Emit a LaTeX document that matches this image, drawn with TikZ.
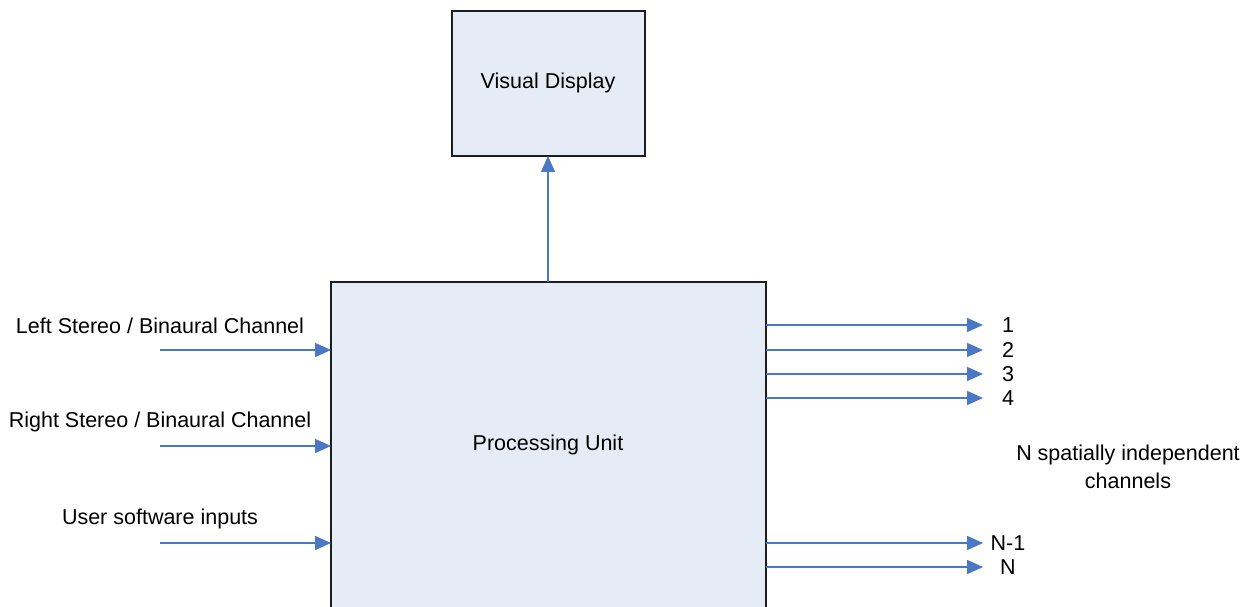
\documentclass[tikz,border=0pt]{standalone}
\usepackage{fontspec}
\setmainfont{Liberation Sans}
\usetikzlibrary{arrows.meta}
\definecolor{boxfill}{HTML}{E6ECF6}
\definecolor{boxline}{HTML}{1E1E1E}
\definecolor{wire}{HTML}{4A78C4}
\begin{document}
\begin{tikzpicture}[x=1pt,y=-1pt,
  block/.style={draw=boxline,line width=1.4pt,fill=boxfill},
  lbl/.style={font=\fontsize{21.5}{25}\selectfont,text=black,inner sep=0pt},
  sig/.style={draw=wire,line width=1.5pt,-{Triangle[length=16pt,width=14pt]}}]
\useasboundingbox (0,0) rectangle (1256,607);
\clip (0,0) rectangle (1256,607);
\fill[white] (0,0) rectangle (1256,607);

% blocks
\draw[block] (452,11) rectangle (645,156);
\node[lbl] (disp) at (548,83) {Visual Display};
\coordinate (dispS) at (548,156);

\draw[block] (331,282) rectangle (766,630);
\node[lbl] (proc) at (548,445) {Processing Unit};
\coordinate (procN) at (548,282);

% processing unit drives the display
\draw[sig] (procN) -- (dispS);

% inputs
\node[lbl] (inL) at (160,326) {Left Stereo / Binaural Channel};
\node[lbl] (inR) at (160,422) {Right Stereo / Binaural Channel};
\node[lbl] (inU) at (160,519) {User software inputs};
\foreach \n/\y in {a/350,b/446,c/543}{
  \coordinate (src\n) at (160,\y);
  \coordinate (dst\n) at (331,\y);
  \draw[sig] (src\n) -- (dst\n);
}

% outputs
\foreach \n/\y/\t in {o1/325/1,o2/350/2,o3/374/3,o4/398/4,on1/543/N-1,on/567/N}{
  \coordinate (\n s) at (766,\y);
  \coordinate (\n e) at (983,\y);
  \node[lbl] (\n) at (1008,\y) {\t};
  \draw[sig] (\n s) -- (\n e);
}

\node[lbl,align=center] (note) at (1128,467)
  {N spatially independent\\[3pt]channels};
\end{tikzpicture}
\end{document}
